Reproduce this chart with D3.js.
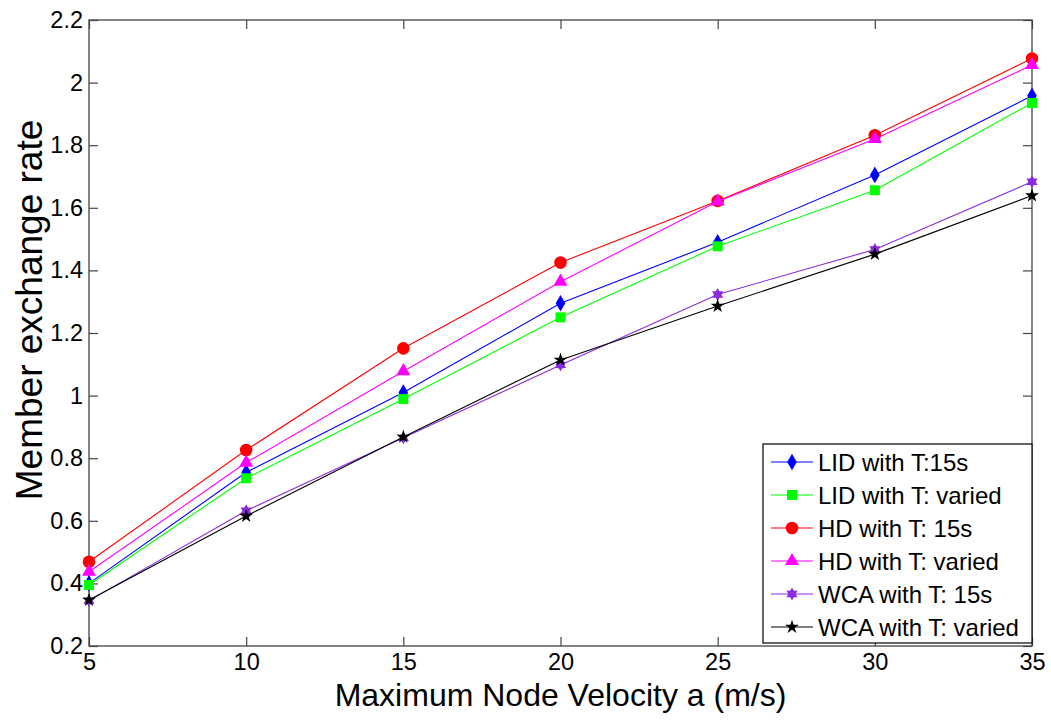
<!DOCTYPE html>
<meta charset="utf-8">
<script src="https://d3js.org/d3.v7.min.js"></script>
<style>
body { margin: 0; background: #fff; }
text { font-family: "Liberation Sans", Arial, Helvetica, sans-serif; fill: #000; }
.frame { fill: none; stroke: #444; stroke-width: 1.3; }
.tick line { stroke: #444; stroke-width: 1.2; }
.legendBox { fill: #fff; stroke: #000; stroke-width: 1.2; }
</style>
<body>
<script>
// DATA
const velocity = [5, 10, 15, 20, 25, 30, 35];
const lid15   = [0.400, 0.755, 1.010, 1.295, 1.490, 1.705, 1.958];
const lidVar  = [0.395, 0.736, 0.989, 1.250, 1.477, 1.656, 1.935];
const hd15    = [0.469, 0.826, 1.151, 1.425, 1.622, 1.832, 2.077];
const hdVar   = [0.437, 0.786, 1.078, 1.364, 1.620, 1.820, 2.056];
const wca15   = [0.345, 0.632, 0.865, 1.098, 1.323, 1.467, 1.683];
const wcaVar  = [0.347, 0.615, 0.868, 1.114, 1.286, 1.452, 1.639];
const seriesNames = ["LID with T:15s", "LID with T: varied", "HD with T: 15s",
                     "HD with T: varied", "WCA with T: 15s", "WCA with T: varied"];
const xTicks = [5, 10, 15, 20, 25, 30, 35];
const yTicks = [0.2, 0.4, 0.6, 0.8, 1, 1.2, 1.4, 1.6, 1.8, 2, 2.2];

// six-point star (hexagram)
const symbolHexagram = {
  draw(ctx, size) {
    const r = Math.sqrt(size / 2.2), ri = r * 0.58;
    for (let i = 0; i < 12; i++) {
      const a = -Math.PI / 2 + i * Math.PI / 6;
      const rr = i % 2 ? ri : r;
      i ? ctx.lineTo(rr * Math.cos(a), rr * Math.sin(a)) : ctx.moveTo(rr * Math.cos(a), rr * Math.sin(a));
    }
    ctx.closePath();
  }
};

const series = [
  {name: seriesNames[0], values: lid15,  color: "#0000ff", sym: d3.symbolDiamond,  size: 80},
  {name: seriesNames[1], values: lidVar, color: "#00ff00", sym: d3.symbolSquare,   size: 100},
  {name: seriesNames[2], values: hd15,   color: "#ff0000", sym: d3.symbolCircle,   size: 125},
  {name: seriesNames[3], values: hdVar,  color: "#ff00ff", sym: d3.symbolTriangle, size: 85},
  {name: seriesNames[4], values: wca15,  color: "#8a2be2", sym: symbolHexagram,    size: 90},
  {name: seriesNames[5], values: wcaVar, color: "#000000", sym: d3.symbolStar,     size: 60}
];

const W = 1051, H = 724;
const plotL = 89, plotR = 1032, plotT = 20, plotB = 646;

const svg = d3.select("body").append("svg").attr("width", W).attr("height", H);

const x = d3.scaleLinear().domain([5, 35]).range([plotL, plotR]);
const y = d3.scaleLinear().domain([0.2, 2.2]).range([plotB, plotT]);

// axes (ticks point inward, as in MATLAB)
const fmtY = d => (d3.format(".1f")(d)).replace(/\.0$/, "");
svg.append("g").attr("transform", `translate(${plotL},0)`)
  .call(d3.axisLeft(y).tickValues(yTicks).tickSize(-9).tickPadding(6).tickFormat(fmtY))
  .call(g => g.select(".domain").remove())
  .call(g => g.selectAll("text").style("font-size", "23.5px"));
svg.append("g").attr("transform", `translate(${plotR},0)`)
  .call(d3.axisRight(y).tickValues(yTicks).tickSize(-9).tickFormat(""))
  .call(g => g.select(".domain").remove());
svg.append("g").attr("transform", `translate(0,${plotB})`)
  .call(d3.axisBottom(x).tickValues(xTicks).tickSize(-9).tickPadding(7))
  .call(g => g.select(".domain").remove())
  .call(g => g.selectAll("text").style("font-size", "23.5px"));
svg.append("g").attr("transform", `translate(0,${plotT})`)
  .call(d3.axisTop(x).tickValues(xTicks).tickSize(-9).tickFormat(""))
  .call(g => g.select(".domain").remove());

svg.append("rect").attr("class", "frame")
  .attr("x", plotL).attr("y", plotT).attr("width", plotR - plotL).attr("height", plotB - plotT);

// axis titles
svg.append("text")
  .attr("x", (plotL + plotR) / 2).attr("y", 706)
  .attr("text-anchor", "middle").style("font-size", "32px")
  .text("Maximum Node Velocity a (m/s)");
svg.append("text")
  .attr("transform", `translate(42,310) rotate(-90)`)
  .attr("text-anchor", "middle").style("font-size", "37px")
  .text("Member exchange rate");

// lines and markers
const line = d3.line().x((d, i) => x(velocity[i])).y(d => y(d));
series.forEach(s => {
  const g = svg.append("g");
  g.append("path").attr("d", line(s.values))
    .attr("fill", "none").attr("stroke", s.color).attr("stroke-width", 1.1);
  g.selectAll("path.mk").data(s.values).join("path").attr("class", "mk")
    .attr("transform", (d, i) => `translate(${x(velocity[i])},${y(d)})`)
    .attr("d", d3.symbol(s.sym, s.size))
    .attr("fill", s.color);
});

// LEGEND
const lgX = 763, lgY = 444, lgW = 269, lgH = 199, rowH = 33;
svg.append("rect").attr("class", "legendBox")
  .attr("x", lgX).attr("y", lgY).attr("width", lgW).attr("height", lgH);
series.forEach((s, i) => {
  const cy = lgY + 18 + i * rowH;
  svg.append("line").attr("x1", lgX + 8).attr("x2", lgX + 50)
    .attr("y1", cy).attr("y2", cy).attr("stroke", s.color).attr("stroke-width", 1.1);
  svg.append("path").attr("transform", `translate(${lgX + 29},${cy})`)
    .attr("d", d3.symbol(s.sym, s.size)).attr("fill", s.color);
  svg.append("text").attr("x", lgX + 55).attr("y", cy + 8.5)
    .style("font-size", "24px").text(s.name);
});
</script>
</body>
